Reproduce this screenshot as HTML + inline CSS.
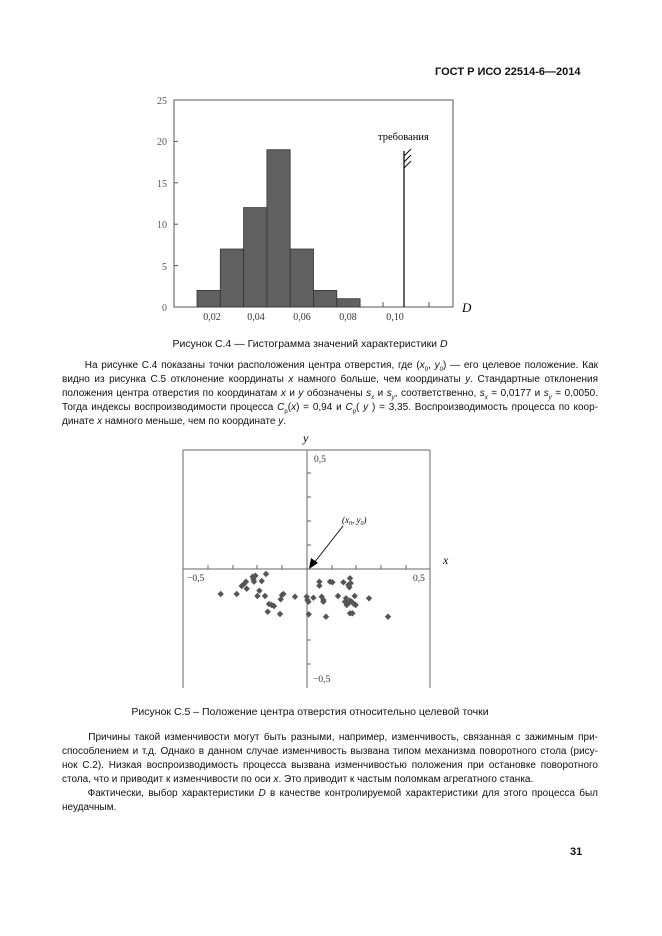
<!DOCTYPE html>
<html><head><meta charset="utf-8"><style>
html,body{margin:0;padding:0;background:#fff;}
body{width:662px;height:936px;position:relative;overflow:hidden;font-family:"Liberation Sans",Arial,sans-serif;color:#111;}
.t{position:absolute;font-size:10px;line-height:14px;white-space:nowrap;}
.j{position:absolute;left:62px;width:536px;font-size:10px;line-height:14px;text-align:justify;text-align-last:justify;white-space:nowrap;}
.l{text-align-last:left;}
svg{position:absolute;left:0;top:0;}
</style></head><body>
<div class="t" style="left:435px;top:65px;font-weight:bold;font-size:11px;">ГОСТ Р ИСО 22514-6—2014</div>

<svg width="662" height="936" font-family="Liberation Serif, serif" font-size="10">
<!-- histogram -->
<rect x="174" y="100" width="279" height="207" fill="none" stroke="#555" stroke-width="1"/>
<g fill="#555" font-size="10" text-anchor="end">
<text x="167" y="104">25</text><text x="167" y="145">20</text><text x="167" y="187">15</text>
<text x="167" y="228">10</text><text x="167" y="270">5</text><text x="167" y="311">0</text>
</g>
<g stroke="#555">
<line x1="174" y1="141.4" x2="178" y2="141.4"/><line x1="174" y1="182.8" x2="178" y2="182.8"/>
<line x1="174" y1="224.2" x2="178" y2="224.2"/><line x1="174" y1="265.6" x2="178" y2="265.6"/>
</g>
<g fill="#606060" stroke="#333" stroke-width="0.8">
<rect x="197" y="290.4" width="23.3" height="16.6"/>
<rect x="220.3" y="249" width="23.3" height="58"/>
<rect x="243.6" y="207.6" width="23.3" height="99.4"/>
<rect x="266.9" y="149.7" width="23.3" height="157.3"/>
<rect x="290.2" y="249" width="23.3" height="58"/>
<rect x="313.5" y="290.4" width="23.3" height="16.6"/>
<rect x="336.8" y="298.7" width="23.3" height="8.3"/>
</g>
<g stroke="#555"><line x1="383" y1="307" x2="383" y2="302"/><line x1="429" y1="307" x2="429" y2="302"/></g>
<line x1="404" y1="151" x2="404" y2="307" stroke="#000" stroke-width="1.2"/>
<g stroke="#000" stroke-width="0.9"><line x1="404" y1="156" x2="411" y2="149"/><line x1="404" y1="162" x2="411" y2="155"/><line x1="404" y1="168" x2="411" y2="161"/></g>
<text x="378" y="140" font-size="10.5">требования</text>
<g fill="#333" text-anchor="middle" font-size="10">
<text x="212" y="320">0,02</text><text x="256" y="320">0,04</text><text x="302" y="320">0,06</text>
<text x="348" y="320">0,08</text><text x="395" y="320">0,10</text>
</g>
<text x="462" y="312" font-size="13" font-style="italic">D</text>

<!-- scatter -->
<g stroke="#666" stroke-width="1" fill="none">
<line x1="183" y1="450" x2="430" y2="450"/>
<line x1="183" y1="450" x2="183" y2="688"/>
<line x1="430" y1="450" x2="430" y2="688"/>
<line x1="183" y1="569" x2="430" y2="569"/>
<line x1="307" y1="450" x2="307" y2="688"/>
</g>
<g stroke="#666">
<line x1="208" y1="569" x2="208" y2="565"/><line x1="233" y1="569" x2="233" y2="565"/><line x1="257" y1="569" x2="257" y2="565"/><line x1="282" y1="569" x2="282" y2="565"/>
<line x1="332" y1="569" x2="332" y2="565"/><line x1="356" y1="569" x2="356" y2="565"/><line x1="381" y1="569" x2="381" y2="565"/><line x1="406" y1="569" x2="406" y2="565"/>
<line x1="307" y1="473" x2="311" y2="473"/><line x1="307" y1="497" x2="311" y2="497"/><line x1="307" y1="521" x2="311" y2="521"/><line x1="307" y1="545" x2="311" y2="545"/>
<line x1="307" y1="640" x2="311" y2="640"/><line x1="307" y1="664" x2="311" y2="664"/>
</g>
<g fill="#333" font-size="9.5">
<text x="314" y="462">0,5</text><text x="187" y="581">−0,5</text><text x="413" y="581">0,5</text><text x="313" y="682">−0,5</text>
</g>
<text x="303" y="442" font-size="12" font-style="italic">y</text>
<text x="443" y="564" font-size="12" font-style="italic">x</text>
<text x="342" y="523" font-size="9" font-style="italic">(x<tspan font-size="6" dy="2">0</tspan><tspan dy="-2">, y</tspan><tspan font-size="6" dy="2">0</tspan><tspan dy="-2">)</tspan></text>
<line x1="343" y1="526" x2="314" y2="563" stroke="#000" stroke-width="0.9"/>
<polygon points="309,569 311,558 318,563" fill="#000"/>
<g fill="#555">
<path id="d" d="M0,-3.2L3.2,0L0,3.2L-3.2,0Z" transform="translate(220.7,594)"/>
<use href="#d" x="16" y="0"/><use href="#d" x="21" y="-8"/><use href="#d" x="23.3" y="-10"/><use href="#d" x="25.3" y="-12.3"/><use href="#d" x="26" y="-5.3"/>
<use href="#d" x="32" y="-17.3"/><use href="#d" x="32.7" y="-14.7"/><use href="#d" x="33.3" y="-12.3"/><use href="#d" x="34.7" y="-18.3"/><use href="#d" x="36.7" y="2"/>
<use href="#d" x="38.7" y="-3.3"/><use href="#d" x="41" y="-13"/><use href="#d" x="44.3" y="2"/><use href="#d" x="45.3" y="-20"/><use href="#d" x="48.3" y="10"/>
<use href="#d" x="51" y="11"/><use href="#d" x="53.3" y="12"/><use href="#d" x="47" y="17.7"/><use href="#d" x="59.3" y="20"/><use href="#d" x="60" y="5.3"/>
<use href="#d" x="61.3" y="1"/><use href="#d" x="62.7" y="0"/><use href="#d" x="74.3" y="2.7"/><use href="#d" x="86" y="2.7"/><use href="#d" x="86.7" y="6"/>
<use href="#d" x="87.7" y="7.7"/><use href="#d" x="88" y="20.3"/><use href="#d" x="92.7" y="3.7"/><use href="#d" x="98.7" y="-12.3"/><use href="#d" x="98.7" y="-8.3"/>
<use href="#d" x="101" y="2.7"/><use href="#d" x="102.7" y="6"/><use href="#d" x="102.7" y="7.7"/><use href="#d" x="105.3" y="22.7"/><use href="#d" x="109.3" y="-12.3"/>
<use href="#d" x="117.3" y="2"/><use href="#d" x="122.7" y="-11.7"/><use href="#d" x="127.7" y="-9"/><use href="#d" x="128.7" y="-6.7"/><use href="#d" x="129.3" y="-15.7"/>
<use href="#d" x="130" y="-10.7"/><use href="#d" x="125.3" y="4.3"/><use href="#d" x="124.3" y="7.7"/><use href="#d" x="126" y="11"/><use href="#d" x="127.7" y="9.3"/>
<use href="#d" x="129.3" y="6.7"/><use href="#d" x="131" y="7.7"/><use href="#d" x="133.3" y="10"/><use href="#d" x="134" y="2"/><use href="#d" x="129.3" y="19.3"/>
<use href="#d" x="131.7" y="19.3"/><use href="#d" x="148.3" y="4.3"/><use href="#d" x="167.3" y="22.7"/><use href="#d" x="135" y="11"/><use href="#d" x="111.7" y="-11.7"/>
</g>
</svg>

<div class="t" style="left:0;width:620px;text-align:center;top:337px;font-size:10.5px;">Рисунок С.4 — Гистограмма значений характеристики <i>D</i></div>
<div class="j" style="top:359px;">&nbsp;&nbsp;&nbsp;&nbsp;&nbsp;&nbsp;На рисунке С.4 показаны точки расположения центра отверстия, где (<i>x</i><sub style="font-size:6px">0</sub>, <i>y</i><sub style="font-size:6px">0</sub>) — его целевое положение. Как</div>
<div class="j" style="top:373px;">видно из рисунка С.5 отклонение координаты <i>x</i> намного больше, чем координаты <i>y</i>. Стандартные отклонения</div>
<div class="j" style="top:387px;">положения центра отверстия по координатам <i>x</i> и <i>y</i> обозначены <i>s<sub style="font-size:6px">x</sub></i> и <i>s<sub style="font-size:6px">y</sub></i>, соответственно, <i>s<sub style="font-size:6px">x</sub></i> = 0,0177 и <i>s<sub style="font-size:6px">y</sub></i> = 0,0050.</div>
<div class="j" style="top:401px;">Тогда индексы воспроизводимости процесса <i>C</i><sub style="font-size:6px">p</sub>(<i>x</i>) = 0,94 и <i>C</i><sub style="font-size:6px">p</sub>( <i>y</i> ) = 3,35. Воспроизводимость процесса по коор-</div>
<div class="j l" style="top:415px;">динате <i>x</i> намного меньше, чем по координате <i>y</i>.</div>

<div class="t" style="left:0;width:620px;text-align:center;top:705px;font-size:10.5px;">Рисунок С.5 – Положение центра отверстия относительно целевой точки</div>
<div class="j" style="top:731px;">&nbsp;&nbsp;&nbsp;&nbsp;&nbsp;&nbsp;Причины такой изменчивости могут быть разными, например, изменчивость, связанная с зажимным при-</div>
<div class="j" style="top:745px;">способлением и т.д. Однако в данном случае изменчивость вызвана типом механизма поворотного стола (рису-</div>
<div class="j" style="top:759px;">нок С.2). Низкая воспроизводимость процесса вызвана изменчивостью положения при остановке поворотного</div>
<div class="j l" style="top:773px;">стола, что и приводит к изменчивости по оси <i>x</i>. Это приводит к частым поломкам агрегатного станка.</div>
<div class="j" style="top:787px;">&nbsp;&nbsp;&nbsp;&nbsp;&nbsp;&nbsp;Фактически, выбор характеристики <i>D</i> в качестве контролируемой характеристики для этого процесса был</div>
<div class="j l" style="top:801px;">неудачным.</div>

<div class="t" style="left:570px;top:845px;font-weight:bold;font-size:11px;">31</div>
</body></html>
